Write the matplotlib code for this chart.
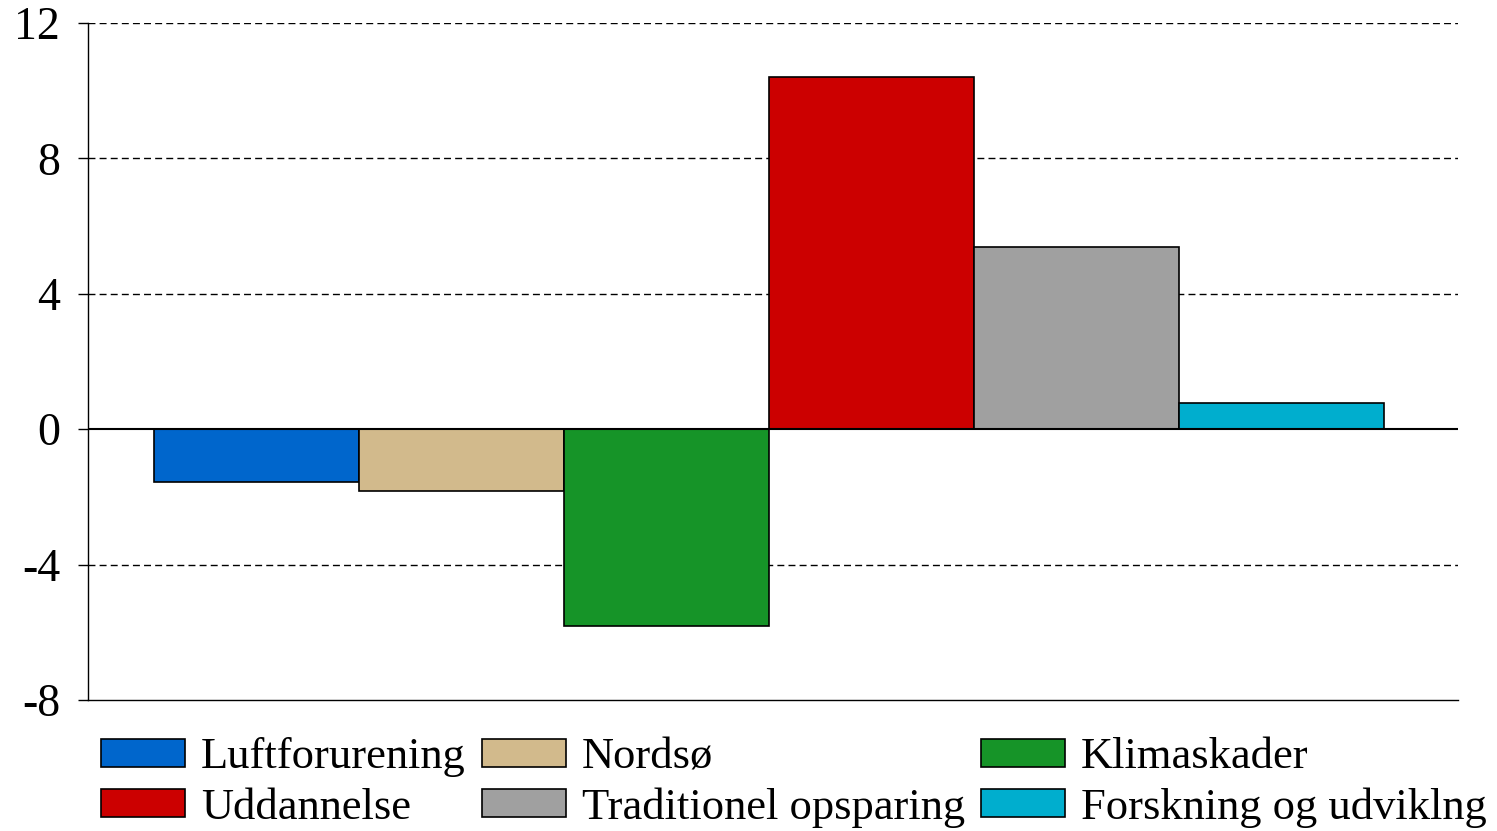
import numpy as np
import matplotlib.pyplot as plt
from matplotlib.patches import Patch

plt.rcParams['font.family'] = ['Liberation Serif', 'DejaVu Serif']
plt.rcParams['axes.unicode_minus'] = False

labels = ["Luftforurening", "Nordsø", "Klimaskader", "Uddannelse",
          "Traditionel opsparing", "Forskning og udviklng"]
values = [-1.55, -1.83, -5.82, 10.4, 5.38, 0.77]
colors = ["#0066CC", "#D2BA8C", "#169428", "#CC0000", "#A0A0A0", "#00AECE"]
yticks = [-8, -4, 0, 4, 8, 12]

fig = plt.figure(figsize=(14.97, 8.31), dpi=100)
ax = fig.add_axes([88/1497, 1 - 700/831, (1458-88)/1497, (700-23)/831])

x = np.arange(len(values))
bars = ax.bar(x, values, width=1.0, color=colors, edgecolor='black',
              linewidth=1.2, zorder=3)

for yv in yticks:
    if yv in (0, -8):
        continue
    ax.axhline(yv, color='black', lw=1.0, ls=(0, (5, 3)), zorder=1)
ax.axhline(0, color='black', lw=1.5, zorder=4)

ax.set_xlim(-0.824, 5.86)
ax.set_ylim(-8, 12)
ax.set_yticks(yticks)
ax.set_xticks([])
ax.tick_params(axis='y', labelsize=33, length=7, width=1.0, direction='out', pad=13)
for s in ['top', 'right']:
    ax.spines[s].set_visible(False)
ax.spines['left'].set_linewidth(1.0)
ax.spines['bottom'].set_linewidth(1.0)

# legend filled column-wise, so reorder entries
order = [0, 3, 1, 4, 2, 5]
handles = [Patch(facecolor=colors[i], edgecolor='black', linewidth=1.2) for i in order]
ax.legend(handles, [labels[i] for i in order], ncol=3, frameon=False,
          fontsize=32, loc='upper left', bbox_to_anchor=(0.003, -0.042),
          handlelength=1.9, handleheight=0.6, handletextpad=0.35,
          columnspacing=0.36, labelspacing=0.23, borderaxespad=0,
          borderpad=0.2)

fig.savefig("out.png", dpi=100)
